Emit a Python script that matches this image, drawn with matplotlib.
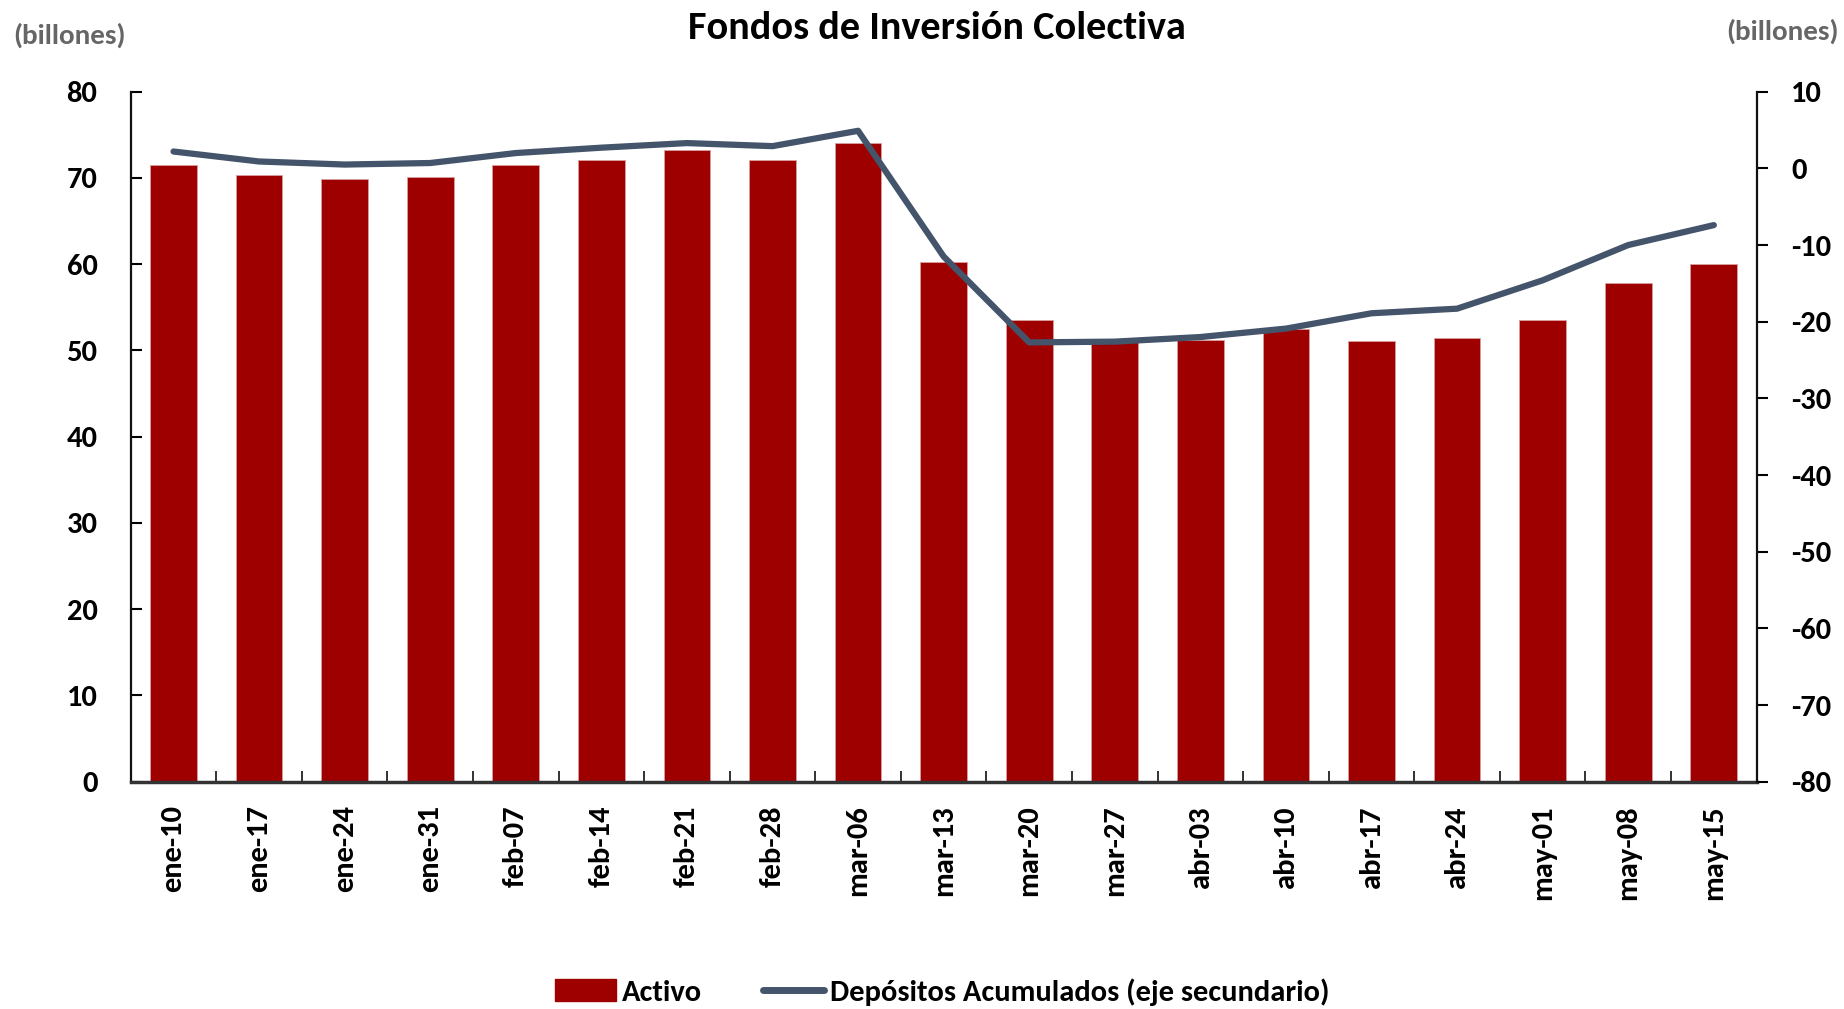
import matplotlib
matplotlib.use("Agg")
import matplotlib.pyplot as plt
from matplotlib import font_manager
from matplotlib.patches import Patch
from matplotlib.lines import Line2D
import numpy as np

available = {f.name for f in font_manager.fontManager.ttflist}
fam = [f for f in ["Carlito", "Lato", "DejaVu Sans"] if f in available]
plt.rcParams["font.family"] = fam
plt.rcParams["font.weight"] = "bold"
plt.rcParams["axes.unicode_minus"] = False

# ---- data ----
categories = ["ene-10", "ene-17", "ene-24", "ene-31", "feb-07", "feb-14", "feb-21",
              "feb-28", "mar-06", "mar-13", "mar-20", "mar-27", "abr-03", "abr-10",
              "abr-17", "abr-24", "may-01", "may-08", "may-15"]
activo = [71.5, 70.4, 69.9, 70.1, 71.5, 72.1, 73.2, 72.1, 74.0, 60.2, 53.5,
          51.0, 51.2, 52.5, 51.1, 51.5, 53.5, 57.8, 60.0]
depositos = [2.2, 0.9, 0.5, 0.7, 2.0, 2.7, 3.3, 2.9, 4.9, -11.5, -22.7,
             -22.6, -22.0, -20.9, -18.9, -18.3, -14.6, -10.0, -7.4]
left_ticks = [0, 10, 20, 30, 40, 50, 60, 70, 80]
right_ticks = [-80, -70, -60, -50, -40, -30, -20, -10, 0, 10]

title = "Fondos de Inversión Colectiva"
unit_label = "(billones)"
legend_labels = ["Activo", "Depósitos Acumulados (eje secundario)"]

bar_color = "#9E0000"
line_color = "#44546A"

fig = plt.figure(figsize=(18.44, 10.09), dpi=100)
ax = fig.add_axes([0.0709, 0.2253, 0.9526 - 0.0709, 0.9091 - 0.2253])
ax2 = ax.twinx()

x = np.arange(len(categories))
ax.bar(x, activo, width=0.545, color=bar_color, edgecolor="#d8a0a0", linewidth=0.6, zorder=2)
ax2.plot(x, depositos, color=line_color, linewidth=4.5, solid_capstyle="round",
         solid_joinstyle="round", zorder=3)

ax.set_xlim(-0.5, len(categories) - 0.5)
ax.set_ylim(0, 80)
ax2.set_ylim(-80, 10)
ax.set_yticks(left_ticks)
ax2.set_yticks(right_ticks)

ax.set_xticks(x)
ax.set_xticklabels(categories, rotation=90, fontsize=22, fontweight="bold")
ax.tick_params(axis="x", which="major", length=0, pad=17)
ax.set_xticks(np.arange(len(categories) + 1) - 0.5, minor=True)
ax.tick_params(axis="x", which="minor", direction="in", length=8, width=1.3, color="#222222")

ax.tick_params(axis="y", direction="in", length=8, width=1.5, pad=24, labelsize=22)
ax2.tick_params(axis="y", direction="out", length=8, width=1.5, pad=17, labelsize=22)
for lab in ax.get_yticklabels() + ax2.get_yticklabels():
    lab.set_fontweight("bold")

for a in (ax, ax2):
    a.spines["top"].set_visible(False)
    for s in ("left", "right", "bottom"):
        a.spines[s].set_linewidth(1.6)
        a.spines[s].set_color("#111111")
ax.spines["right"].set_visible(False)
ax2.spines["left"].set_visible(False)
ax2.spines["bottom"].set_visible(False)
ax.spines["bottom"].set_linewidth(2.5)
ax.spines["bottom"].set_color("#333333")

fig.text(0.508, 1 - 39 / 1009, title, ha="center", va="baseline", fontsize=29,
         fontweight="bold", color="black")
fig.text(0.007, 1 - 35 / 1009, unit_label, ha="left", va="center", fontsize=21,
         fontweight="bold", color="#666666")
fig.text(0.997, 1 - 31 / 1009, unit_label, ha="right", va="center", fontsize=21,
         fontweight="bold", color="#666666")

handles = [Patch(facecolor=bar_color, edgecolor=bar_color),
           Line2D([0], [0], color=line_color, linewidth=5, solid_capstyle="round")]
fig.legend(handles, legend_labels, loc="center", bbox_to_anchor=(0.511, 0.017), ncol=2,
           frameon=False, prop={"size": 22, "weight": "bold"}, handlelength=2.0,
           handleheight=0.7, handletextpad=0.2, columnspacing=2.0)

fig.savefig("out.png", dpi=100)
